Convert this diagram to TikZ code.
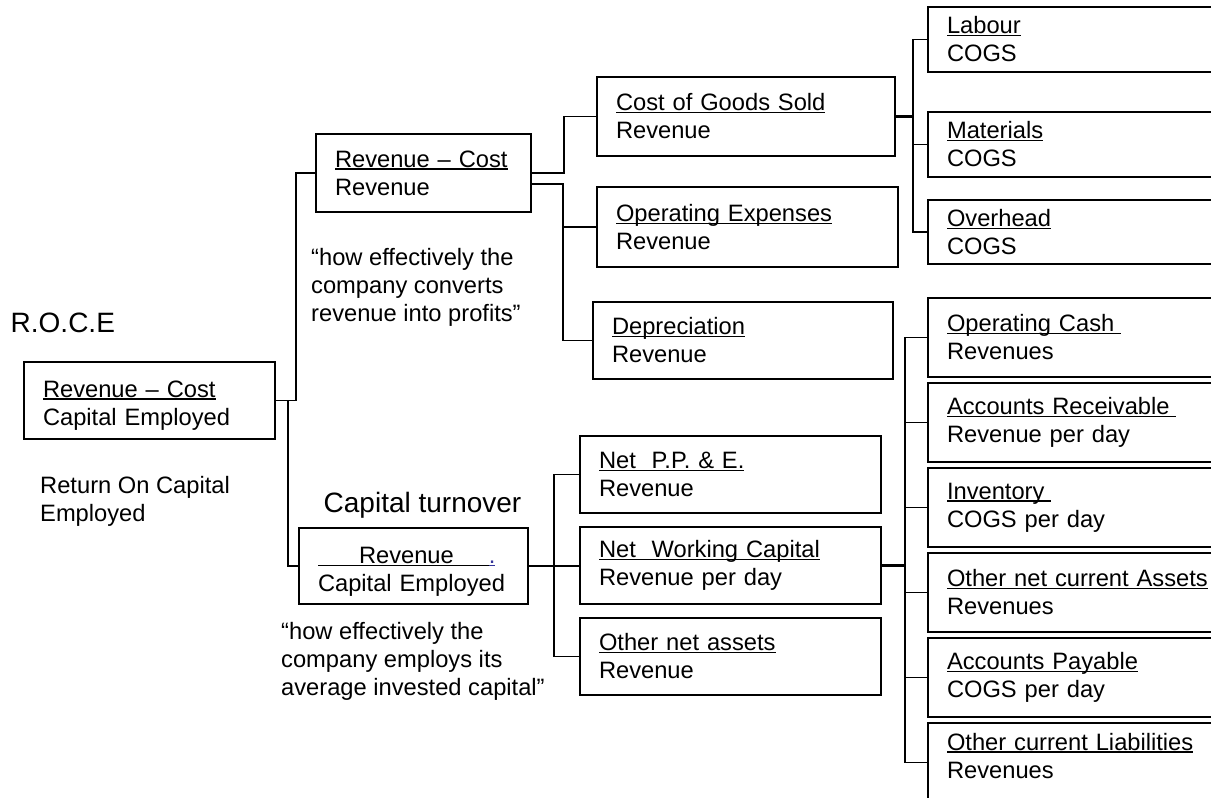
\documentclass[tikz,border=0pt]{standalone}
\usepackage{fontspec}
\setmainfont{Liberation Sans}
\usetikzlibrary{calc}
% underline with an optional extra length after the text
\newcommand{\uln}[2][0pt]{\setbox0=\hbox{#2\hspace*{#1}}\rlap{\rule[-2.5pt]{\wd0}{1.4pt}}#2}
\definecolor{linkblue}{RGB}{51,51,153}
\begin{document}
\begin{tikzpicture}[x=1pt,y=-1pt,
  every node/.style={inner sep=0pt},
  txt/.style={font=\fontsize{23.7}{28}\selectfont, align=left},
  big/.style={font=\fontsize{28}{33}\selectfont},
  box/.style={draw, line width=1.8pt, txt, inner xsep=19pt, inner ysep=0pt},
  conn/.style={line width=1.3pt},
  trunk/.style={line width=2.4pt},
]
\useasboundingbox (0,0) rectangle (1211,798);
\clip (0,0) rectangle (1211,798);

% ratio boxes
\node[box, minimum height=77pt, text width=213pt] (roce) at (149.5,400.5) {\rule{0pt}{26pt}\uln{Revenue – Cost}\\Capital Employed};
\node[box, minimum height=78pt, text width=177pt] (rc) at (423.5,173) {\uln{Revenue – Cost}\\Revenue};
\node[box, minimum height=76pt, text width=191pt] (cap) at (413.5,566) {\rule{0pt}{28pt}\uln{\hspace*{41pt}Revenue\hspace*{35pt}}{\color{linkblue}\uln{.}}\\Capital Employed};

\node[box, minimum height=79pt, text width=260pt] (cogs) at (746,116.5) {\uln{Cost of Goods Sold}\\Revenue};
\node[box, minimum height=80pt, text width=263pt] (opex) at (747.5,227) {\uln{Operating Expenses}\\Revenue};
\node[box, minimum height=77pt, text width=262pt] (depr) at (743,340.5) {\uln{Depreciation}\\Revenue};

\node[box, minimum height=77pt, text width=263pt] (nppe) at (730.5,474.5) {\uln{Net\ \ P.P. \& E.}\\Revenue};
\node[box, minimum height=77pt, text width=263pt] (nwc) at (730.5,565.5) {\uln{Net\ \ Working Capital}\\Revenue per day};
\node[box, minimum height=77pt, text width=263pt] (ona) at (730.5,656.5) {\uln{Other net assets}\\Revenue};

\node[box, minimum height=65pt, text width=274pt] (lab) at (1084,39.5) {\uln{Labour}\\COGS};
\node[box, minimum height=65pt, text width=274pt] (mat) at (1084,144.5) {\uln{Materials}\\COGS};
\node[box, minimum height=64pt, text width=274pt] (ovh) at (1084,232) {\uln{Overhead}\\COGS};

\node[box, minimum height=79pt, text width=274pt] (r1) at (1084,337.5) {\uln[6.6pt]{Operating Cash}\\Revenues};
\node[box, minimum height=79pt, text width=274pt] (r2) at (1084,422.5) {\uln[6.6pt]{Accounts Receivable}\\Revenue per day};
\node[box, minimum height=79pt, text width=274pt] (r3) at (1084,507.5) {\uln[6.6pt]{Inventory}\\COGS per day};
\node[box, minimum height=79pt, text width=274pt] (r4) at (1084,592.5) {\uln{Other net current Assets}\\Revenues};
\node[box, minimum height=79pt, text width=274pt] (r5) at (1084,677.5) {\uln{Accounts Payable}\\COGS per day};
\node[box, minimum height=79pt, text width=274pt] (r6) at (1084,762.5) {\uln{Other current Liabilities}\\Revenues\rule[-14pt]{0pt}{14pt}};

% free labels
\node[big, anchor=base west] (roceT) at (10.5,332) {R.O.C.E};
\node[txt, anchor=north west] (roceN) at (40,475.7) {Return On Capital\\Employed};
\node[txt, anchor=north west] (q1) at (311,247.7) {“how effectively the\\company converts\\revenue into profits”};
\node[big, anchor=base west] (ctT) at (323.5,512) {Capital turnover};
\node[txt, anchor=north west] (q2) at (281,621.7) {“how effectively the\\company employs its\\average invested capital”};

% tree connectors
\draw[conn] (roce.east) -- ++(20,0) |- (rc.west);
\draw[conn] (roce.east) -- ++(12,0) |- (cap.west);

\draw[conn] (rc.east) -- ++(32,0) |- (cogs.west);
\draw[trunk] ([yshift=-11pt]rc.east) -- ++(31,0) |- (opex.west);
\draw[conn] ([yshift=-11pt]rc.east) -- ++(31,0) |- (depr.west);

\draw[conn] (cap.east) -- ++(25,0) |- (nppe.west);
\draw[trunk] (cap.east) -- (cap.east -| nwc.west);
\draw[conn] (cap.east) -- ++(25,0) |- (ona.west);

\draw[trunk] (cogs.east) -- ++(17,0);
\foreach \n in {lab,mat,ovh} \draw[conn] (cogs.east) -- ++(17,0) |- (\n.west);

\draw[trunk] (nwc.east) -- ++(23,0);
\foreach \n in {r1,r2,r3,r4,r5,r6} \draw[conn] (nwc.east) -- ++(23,0) |- (\n.west);
\end{tikzpicture}
\end{document}
